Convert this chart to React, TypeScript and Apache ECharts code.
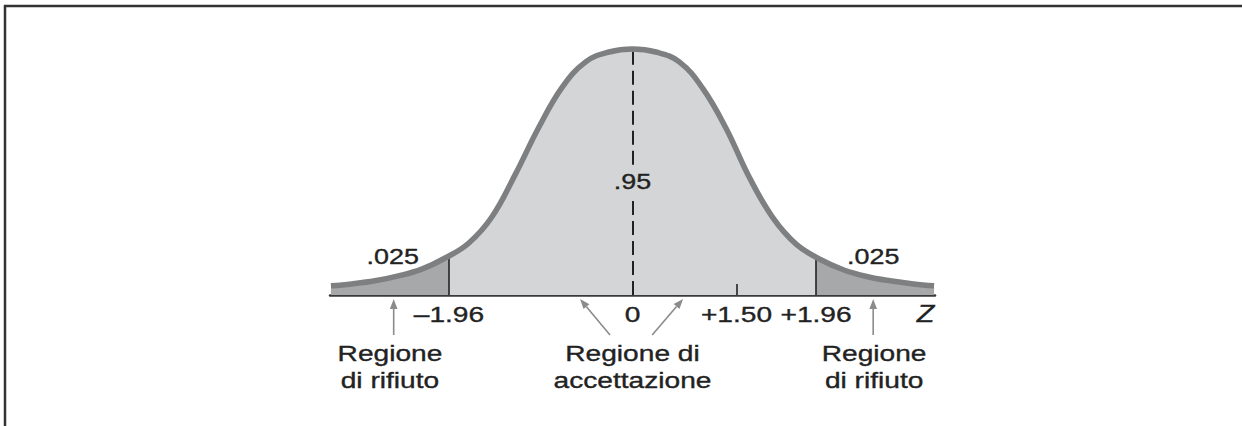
import React, { useEffect, useRef } from 'react';
import * as echarts from 'echarts';

// Curve (z value, height as density)
const curveZ = [-3.22, -3.0, -2.75, -2.5, -2.25, -2.0, -1.75, -1.5, -1.25, -1.0, -0.75, -0.5, -0.25, 0, 0.25, 0.5, 0.75, 1.0, 1.25, 1.5, 1.75, 2.0, 2.25, 2.5, 2.75, 3.0, 3.22];
const curveDensity = [0.015, 0.018, 0.023, 0.031, 0.042, 0.06, 0.084, 0.127, 0.196, 0.272, 0.337, 0.378, 0.394, 0.399, 0.394, 0.378, 0.335, 0.27, 0.19, 0.125, 0.082, 0.058, 0.041, 0.03, 0.023, 0.018, 0.015];

const criticalZ = [-1.96, 1.96];
const criticalTop = [0.06, 0.057];
const observedTickZ = 1.11;
const observedTickTop = 0.018;
const centerLineSegments = [[0, 0.157], [0.211, 0.395]];

const tickZ = [-1.96, 0, 1.11, 1.96];
const tickLabels = ['–1.96', '0', '+1.50', '+1.96'];
const axisName = 'Z';
const axisNameZ = 3.13;

const tailAreaLabel = '.025';
const centerAreaLabel = '.95';
const tailLabelPos = [[-2.56, 0.062], [2.57, 0.063]];
const centerLabelPos = [0, 0.184];

const regionLabelZ = [-2.59, 0, 2.58];
const regionLabelLines = [['Regione', 'di rifiuto'], ['Regione di', 'accettazione'], ['Regione', 'di rifiuto']];
// arrows: [bottom z, tip z]
const arrowZ = [[-2.55, -2.55], [-0.24, -0.56], [0.21, 0.54], [2.57, 2.57]];

const TAIL = '#a7a8aa';
const MID = '#d4d5d7';
const STROKE = '#7e7f81';
const INK = '#222222';
const ARROW = '#8a8b8d';
const FONT = '"Liberation Sans", Arial, Helvetica, sans-serif';
const SX = 1.25;

export default function App() {
  const ref = useRef<HTMLDivElement>(null);
  useEffect(() => {
    if (!ref.current) return;
    const chart = echarts.init(ref.current, null, { renderer: 'svg' });
    const data = curveZ.map((z, i) => [z, curveDensity[i]]);
    const markData: any[] = [];
    criticalZ.forEach((z, i) => {
      markData.push([{ coord: [z, 0], lineStyle: { type: 'solid', width: 1.6, color: INK } }, { coord: [z, criticalTop[i]] }]);
    });
    markData.push([{ coord: [observedTickZ, 0], lineStyle: { type: 'solid', width: 1.6, color: INK } }, { coord: [observedTickZ, observedTickTop] }]);
    centerLineSegments.forEach((s) => {
      markData.push([{ coord: [0, s[0]], lineStyle: { type: [14, 6], width: 2, color: INK } }, { coord: [0, s[1]] }]);
    });

    chart.setOption({
      animation: false,
      backgroundColor: '#ffffff',
      grid: { left: 330, right: 307, top: 48.3, bottom: 131 },
      xAxis: {
        type: 'value', min: -3.23, max: 3.23,
        axisLine: { show: true, onZero: false, lineStyle: { color: '#3a3a3a', width: 2.5 } },
        axisTick: { show: false }, axisLabel: { show: false }, splitLine: { show: false },
      },
      yAxis: {
        type: 'value', min: 0, max: 0.4, show: false,
        splitLine: { show: false },
      },
      visualMap: {
        show: false, type: 'piecewise', dimension: 0, seriesIndex: 0,
        pieces: [
          { lt: -1.96, color: TAIL },
          { gte: -1.96, lte: 1.96, color: MID },
          { gt: 1.96, color: TAIL },
        ],
      },
      series: [
        {
          type: 'line', data, smooth: 0.4, showSymbol: false, symbol: 'none',
          lineStyle: { width: 0 }, areaStyle: { opacity: 1 }, z: 2,
          markLine: { silent: true, symbol: 'none', label: { show: false }, data: markData },
        },
        {
          type: 'line', data, smooth: 0.4, showSymbol: false, symbol: 'none',
          lineStyle: { width: 5.5, color: STROKE }, z: 6,
        },
      ],
    });

    const px = (z: number, d: number) => chart.convertToPixel({ gridIndex: 0 }, [z, d]) as number[];
    const axisY = px(0, 0)[1];
    const g: any[] = [];
    const txt = (text: string, x: number, y: number, size = 22.5, italic = false) => ({
      type: 'text', x, y, scaleX: SX, z: 20,
      style: {
        text, fill: INK, fontSize: size, fontFamily: FONT, fontStyle: italic ? 'italic' : 'normal',
        stroke: INK, lineWidth: 0.35,
        align: 'center', verticalAlign: 'middle', textAlign: 'center', textVerticalAlign: 'middle',
      },
    });
    // frame
    g.push({ type: 'line', shape: { x1: 5, y1: 5, x2: 5, y2: 426 }, style: { stroke: '#333', lineWidth: 2.5 }, z: 20 });
    g.push({ type: 'line', shape: { x1: 4, y1: 6, x2: 1242, y2: 6 }, style: { stroke: '#333', lineWidth: 2.5 }, z: 20 });
    // tick labels
    tickZ.forEach((z, i) => g.push(txt(tickLabels[i], px(z, 0)[0], axisY + 19)));
    g.push(txt(axisName, px(axisNameZ, 0)[0], axisY + 19, 23, true));
    // area labels
    tailLabelPos.forEach((p) => { const q = px(p[0], p[1]); g.push(txt(tailAreaLabel, q[0], q[1], 21.5)); });
    { const q = px(centerLabelPos[0], centerLabelPos[1]); g.push(txt(centerAreaLabel, q[0], q[1], 21.5)); }
    // region labels
    regionLabelZ.forEach((z, i) => {
      const x = px(z, 0)[0];
      g.push(txt(regionLabelLines[i][0], x, axisY + 58));
      g.push(txt(regionLabelLines[i][1], x, axisY + 85));
    });
    // arrows
    arrowZ.forEach((a) => {
      const x0 = px(a[0], 0)[0];
      const x1 = px(a[1], 0)[0];
      const y0 = axisY + 40;
      const y1 = axisY + 4;
      const dx = x1 - x0, dy = y1 - y0;
      const L = Math.sqrt(dx * dx + dy * dy);
      const ux = dx / L, uy = dy / L;
      const hl = 10, hw = 3.8;
      const bx = x1 - ux * hl, by = y1 - uy * hl;
      g.push({ type: 'line', shape: { x1: x0, y1: y0, x2: bx, y2: by }, style: { stroke: ARROW, lineWidth: 1.6 }, z: 20 });
      g.push({
        type: 'polygon', z: 20,
        shape: { points: [[x1, y1], [bx - uy * hw, by + ux * hw], [bx + uy * hw, by - ux * hw]] },
        style: { fill: ARROW },
      });
    });
    chart.setOption({ graphic: g });
    return () => chart.dispose();
  }, []);
  return <div ref={ref} style={{ position: 'fixed', left: 0, top: 0, width: 1242, height: 426, background: '#fff' }} />;
}
